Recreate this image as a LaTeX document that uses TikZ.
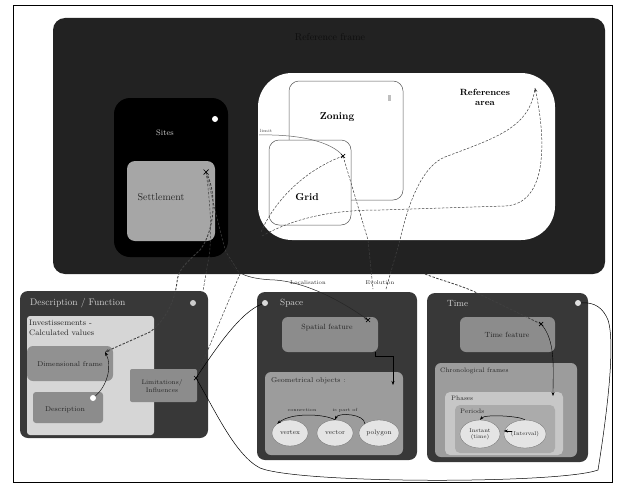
\documentclass[tikz,border=0pt]{standalone}
\usetikzlibrary{shapes.geometric,arrows.meta}
\definecolor{bigbg}{HTML}{222222}
\definecolor{panelbg}{HTML}{383838}
\definecolor{midgray}{HTML}{8C8C8C}
\definecolor{geomgray}{HTML}{9C9C9C}
\definecolor{lightpanel}{HTML}{D6D6D6}
\definecolor{ellfill}{HTML}{E4E4E4}
\definecolor{lighttext}{HTML}{D2D2D2}
\definecolor{darktext}{HTML}{262626}
\definecolor{titledark}{HTML}{0E0E0E}
\begin{document}
\begin{tikzpicture}[x=1pt,y=-1pt,
  box/.style={anchor=north west, inner sep=0pt, outer sep=0pt, rounded corners=#1},
  box/.default=6pt,
  ell/.style={ellipse, fill=ellfill, draw=geomgray!70!black, line width=0.3pt, inner sep=0pt, font=\fontsize{6.5}{7}\selectfont, text=darktext, align=center},
  icon/.style={circle, fill=#1, inner sep=0pt, minimum size=6pt},
  txt/.style={inner sep=0pt, text=darktext},
  arr/.style={-{Stealth[length=4pt,width=3pt]}},
  dsh/.style={dashed, dash pattern=on 2.5pt off 1.5pt, line width=0.5pt, draw=black!75},
  xmark/.style={line width=0.7pt}
]
\useasboundingbox (0,0) rectangle (617,487);
\fill[white] (0,0) rectangle (617,487);
\draw[line width=0.6pt] (13,5) rectangle (612,482);

% ---------- top context box ----------
\node[box=12pt, fill=bigbg, minimum width=552pt, minimum height=256pt] (big) at (53,18) {};
\node[txt, text=titledark, font=\fontsize{10}{12}\selectfont] (bigtitle) at (330,37) {Reference frame};

\node[box=16pt, fill=black, minimum width=114pt, minimum height=159pt] (sites) at (114,98) {};
\node[txt, text=lighttext, font=\fontsize{8}{9}\selectfont] (siteslbl) at (165,133) {Sites};
\node[icon=white] (sitesicon) at (215,119) {};
\node[box=8pt, fill=black!35, minimum width=88pt, minimum height=80pt] (settle) at (127,161) {};
\node[txt, font=\fontsize{10}{12}\selectfont] (settlelbl) at (161,197) {Settlement};

\node[box=34pt, fill=white, minimum width=297pt, minimum height=167pt] (refarea) at (258,73) {};
\node[txt, font=\bfseries\fontsize{9}{10}\selectfont, align=center, text=black] (reflbl) at (485,97) {References\\area};
\node[box=10pt, fill=white, draw=black!65, line width=0.5pt, minimum width=114pt, minimum height=119pt] (zoning) at (289,81) {};
\node[txt, font=\bfseries\fontsize{10}{12}\selectfont, text=black] (zoninglbl) at (337,117) {Zoning};
\node[fill=black!25, inner sep=0pt, minimum width=3pt, minimum height=6pt] (zoningmark) at (389,98) {};
\node[box=10pt, fill=white, draw=black!65, line width=0.5pt, minimum width=82pt, minimum height=85pt] (grid) at (269,140) {};
\node[txt, font=\bfseries\fontsize{10}{12}\selectfont, text=black] (gridlbl) at (307,197) {Grid};
\node[txt, font=\fontsize{4.5}{5}\selectfont, text=black!70] (limitlbl) at (266,131) {limit};

\coordinate (gx) at (343,156);
\coordinate (ratop) at (535,88);
\coordinate (setmark) at (206,172);

\draw[black!60, line width=0.5pt] (259,135) .. controls (300,134) and (332,142) .. (gx);
\draw[dsh] (gx) .. controls (305,170) and (275,200) .. (261,232);
\draw[dsh] (gx) -- (368,240) -- (373,289);
\draw[dsh, arr] (262,236) .. controls (300,215) and (340,210) .. (380,210) -- (505,206) .. controls (548,204) and (546,140) .. (ratop);
\draw[dsh] (386,289) -- (400,240) .. controls (410,195) and (425,165) .. (445,157) .. controls (495,138) and (530,128) .. (ratop);
\draw[xmark] (gx) +(-2,-2) -- +(2,2) +(-2,2) -- +(2,-2);

% ---------- Description / Function ----------
\node[box=8pt, fill=panelbg, minimum width=188pt, minimum height=147pt] (descbox) at (20,291) {};
\node[txt, anchor=west, text=lighttext, font=\fontsize{9.5}{11}\selectfont] (desctitle) at (30,303) {Description / Function};
\node[icon=black!20] (descicon) at (193,303) {};
\node[box=3pt, fill=lightpanel, minimum width=127pt, minimum height=119pt] (invest) at (27,316) {};
\node[txt, anchor=north west, align=left, font=\fontsize{8}{9.5}\selectfont] (investlbl) at (29,320) {Investissements -\\Calculated values};
\node[box=6pt, fill=black!43, minimum width=86pt, minimum height=35pt] (dimframe) at (27,346) {};
\node[txt, font=\fontsize{7}{8}\selectfont] (dimlbl) at (70,364) {Dimensional frame};
\node[box=3pt, fill=black!45, minimum width=70pt, minimum height=31pt] (descr) at (33,392) {};
\node[txt, font=\fontsize{7}{8}\selectfont] (descrlbl) at (65,410) {Description};
\node[icon=white] (descdot) at (93,398) {};
\node[box=2pt, fill=black!45, minimum width=67pt, minimum height=33pt] (limits) at (130,369) {};
\node[txt, align=center, font=\fontsize{6.5}{7.5}\selectfont] (limlbl) at (162,386) {Limitations/\\Influences};
\coordinate (dimend) at (105,352);
\coordinate (limmark) at (196,378);

% ---------- Space ----------
\node[box=8pt, fill=panelbg, minimum width=160pt, minimum height=168pt] (space) at (257,292) {};
\node[txt, anchor=west, text=lighttext, font=\fontsize{9}{11}\selectfont] (spacetitle) at (280,303) {Space};
\node[icon=black!15] (spaceicon) at (265,303) {};
\node[box=6pt, fill=midgray, minimum width=96pt, minimum height=35pt] (spatial) at (282,317) {};
\node[txt, font=\fontsize{7.5}{9}\selectfont] (spatiallbl) at (327,328) {Spatial feature};
\node[box=6pt, fill=geomgray, minimum width=138pt, minimum height=83pt] (geom) at (265,372) {};
\node[txt, anchor=west, font=\fontsize{7}{8}\selectfont] (geomlbl) at (271,381) {Geometrical objects :};
\node[ell, minimum width=36pt, minimum height=26pt] (vertex) at (290,433) {vertex};
\node[ell, minimum width=36pt, minimum height=26pt] (vector) at (335,433) {vector};
\node[ell, minimum width=40pt, minimum height=26pt] (polygon) at (379,433) {polygon};
\node[txt, font=\fontsize{4.5}{5}\selectfont] (connlbl) at (302,410) {connection};
\node[txt, font=\fontsize{4.5}{5}\selectfont] (partlbl) at (345,410) {is part of};
\coordinate (spmark) at (368,320);

% ---------- Time ----------
\node[box=8pt, fill=panelbg, minimum width=161pt, minimum height=169pt] (time) at (427,293) {};
\node[txt, anchor=west, text=lighttext, font=\fontsize{9}{11}\selectfont] (timetitle) at (447,303) {Time};
\node[icon=black!12] (timeicon) at (578,303) {};
\node[box=6pt, fill=midgray, minimum width=95pt, minimum height=35pt] (timefeat) at (460,317) {};
\node[txt, font=\fontsize{7.5}{9}\selectfont] (timefeatlbl) at (507,335) {Time feature};
\node[box=6pt, fill=geomgray, minimum width=142pt, minimum height=94pt] (chrono) at (435,363) {};
\node[txt, anchor=west, font=\fontsize{6.5}{7.5}\selectfont] (chronolbl) at (440,371) {Chronological frames};
\node[box=5pt, fill=black!22, minimum width=118pt, minimum height=63pt] (phases) at (445,392) {};
\node[txt, anchor=west, font=\fontsize{6.5}{7.5}\selectfont] (phaseslbl) at (451,398) {Phases};
\node[box=5pt, fill=black!33, minimum width=100pt, minimum height=48pt] (periods) at (455,405) {};
\node[txt, anchor=west, font=\fontsize{6.5}{7.5}\selectfont] (periodslbl) at (460,411) {Periods};
\node[ell, minimum width=40pt, minimum height=28pt, font=\fontsize{5.5}{6}\selectfont] (instant) at (480,434) {Instant\\(time)};
\node[ell, minimum width=42pt, minimum height=28pt, font=\fontsize{5.5}{6}\selectfont] (interval) at (525,434) {(Interval)};
\coordinate (tfmark) at (541,324);

% ---------- connectors ----------
% settlement links
\draw[dsh, line width=0.9pt, arr] (setmark) .. controls (218,195) and (214,232) .. (200,250) .. controls (185,264) and (178,270) .. (177,282) .. controls (175,300) and (166,320) .. (150,332) -- (dimend);
\draw[dsh] (setmark) .. controls (210,200) and (213,240) .. (208,262) -- (203,291);
\draw[dsh] (setmark) .. controls (214,205) and (222,240) .. (226,252) -- (240,274) -- (limmark);
\draw[xmark] (setmark) +(-2.5,-2.5) -- +(2.5,2.5) +(-2.5,2.5) -- +(2.5,-2.5);
\draw[xmark] (limmark) +(-2,-2) -- +(2,2) +(-2,2) -- +(2,-2);

% Localisation
\draw[black!85, line width=0.5pt, arr] (sites.south east) .. controls (232,272) and (245,279) .. (275,280) .. controls (305,282) and (340,300) .. (spmark);
\node[txt, font=\fontsize{5.5}{6}\selectfont] (loclbl) at (308,283) {Localisation};
\node[txt, font=\fontsize{5.5}{6}\selectfont] (evollbl) at (380,283) {Evolution};
\draw[xmark] (spmark) +(-2,-2) -- +(2,2) +(-2,2) -- +(2,-2);
\draw[arr, line width=0.4pt] ([xshift=-3pt]spatial.south east) |- (393,356) -- (393,385);

% time links
\draw[dsh, line width=0.8pt] (425,274) .. controls (440,280) and (460,285) .. (475,292) -- (tfmark);
\draw[xmark] (tfmark) +(-2,-2) -- +(2,2) +(-2,2) -- +(2,-2);
\draw[arr] (tfmark) .. controls (556,340) and (553,370) .. (553,396);

% description
\draw[arr] (descdot) .. controls (108,385) and (112,365) .. (dimend);

% geometrical objects arcs
\draw[arr, line width=0.5pt] (vector.north) .. controls (325,414) and (292,412) .. (vertex.north west);
\draw[arr, line width=0.5pt] (polygon.north west) .. controls (365,414) and (338,412) .. (vector.north);

% periods arcs
\draw[arr, line width=0.5pt] (interval.north) .. controls (520,416) and (485,414) .. (instant.north);
\draw[{Stealth[length=4pt,width=3pt]}-, line width=0.5pt] (interval.west) ++(0,-3) -- ++(8,0);

% limitations links
\draw[line width=0.5pt] (limmark) .. controls (215,350) and (240,312) .. (spaceicon);
\draw[line width=0.5pt] (limmark) .. controls (215,410) and (235,455) .. (260,468) .. controls (300,484) and (560,484) .. (598,470) .. controls (606,420) and (616,345) .. (608,320) .. controls (603,308) and (595,302) .. (timeicon);
\end{tikzpicture}
\end{document}
